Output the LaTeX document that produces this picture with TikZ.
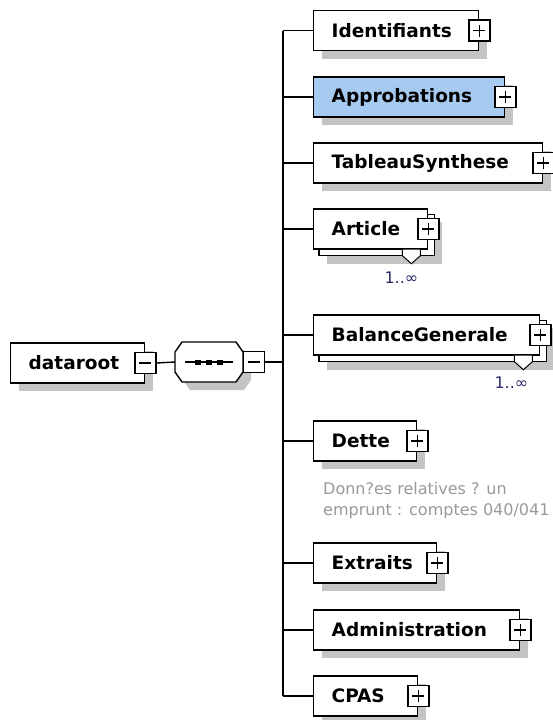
\documentclass[tikz,border=0pt]{standalone}
\usepackage{fontspec}
\setmainfont{DejaVu Sans}
\usetikzlibrary{shadows,backgrounds,calc}
\definecolor{selblue}{HTML}{A6CAF0}
\definecolor{shadowgray}{HTML}{C4C4C4}
\definecolor{occurs}{HTML}{2B2B6B}
\definecolor{notegray}{HTML}{999999}
\begin{document}
\begin{tikzpicture}[x=1pt,y=-1pt]
	\tikzset{shadowed/.style = {general shadow={fill=shadowgray, shadow xshift=8pt, shadow yshift=-8pt}}}
	\tikzset{elem/.style = {draw, line width=1.4pt, fill=white, minimum height=40pt, inner xsep=18pt, inner ysep=0pt, align=left, anchor=west, font=\fontsize{18.5}{22}\selectfont\bfseries}}
	\tikzset{single/.style = {elem, shadowed}}
	\tikzset{togglebox/.style = {draw, line width=1.4pt, fill=white, minimum size=21pt, inner sep=0pt}}
	\tikzset{plus/.style = {togglebox, path picture={\draw[line width=1.4pt] ([xshift=-6pt]path picture bounding box.center) -- ([xshift=6pt]path picture bounding box.center) ([yshift=-6pt]path picture bounding box.center) -- ([yshift=6pt]path picture bounding box.center);}}}
	\tikzset{minus/.style = {togglebox, path picture={\draw[line width=1.4pt] ([xshift=-6pt]path picture bounding box.center) -- ([xshift=6pt]path picture bounding box.center);}}}
	\tikzset{conn/.style = {line width=1.4pt}}
	\tikzset{occ/.style = {text=occurs, inner sep=0pt, font=\fontsize{16}{18}\selectfont}}
	\tikzset{note/.style = {text=notegray, inner sep=0pt, align=left, font=\fontsize{16}{21}\selectfont}}
	\useasboundingbox (0,0) rectangle (552,720);
	% Root and sequence
	\node[single, text width=98pt] (root) at (10,363) {dataroot};
	\node[minus] (rootm) at (root.east) {};
	\node[minimum width=68pt, minimum height=40pt, inner sep=0pt, outer sep=0pt] (seq) at (209,362) {};
	\filldraw[line width=1.4pt, fill=white, shadowed] ($(seq.west)+(0,-10)$) -- ($(seq.north west)+(7,0)$) -- ($(seq.north east)+(-7,0)$) -- ($(seq.east)+(0,-10)$) -- ($(seq.east)+(0,10)$) -- ($(seq.south east)+(-7,0)$) -- ($(seq.south west)+(7,0)$) -- ($(seq.west)+(0,10)$) -- cycle;
	\draw[line width=1.2pt] ($(seq.center)+(-24,0)$) -- ($(seq.center)+(24,0)$);
	\foreach \d in {-11,0,11}
		\fill ($(seq.center)+(\d,0)$) +(-3,-2.5) rectangle +(3,2.5);
	\node[minus, anchor=west] (seqm) at (seq.east) {};
	\coordinate (hub) at (283,362);
	\draw[conn] (rootm.east) -- (seq.west);
	\draw[conn] (seqm.east) -- (hub);
	% Children
	\node[single, text width=129pt] (ident) at (313,30.5) {Identifiants};
	\node[plus] (identp) at (ident.east) {};
	\node[single, text width=155pt, fill=selblue] (appro) at (313,97) {Approbations};
	\node[plus] (approp) at (appro.east) {};
	\node[single, text width=193pt] (tabsyn) at (313,163) {TableauSynthese};
	\node[plus] (tabsynp) at (tabsyn.east) {};
	\node[elem, text width=78pt] (art) at (313,229) {Article};
	\node[plus] (artp) at (art.east) {};
	\node[elem, text width=190pt] (balgen) at (313,335) {BalanceGenerale};
	\node[plus] (balgenp) at (balgen.east) {};
	\node[single, text width=67pt] (dette) at (313,441) {Dette};
	\node[plus] (dettep) at (dette.east) {};
	\node[note, anchor=north west] (dettenote) at ($(dette.south west)+(10,20)$) {Donn?es relatives ? un\\emprunt : comptes 040/041};
	\node[single, text width=87pt] (extr) at (313,563) {Extraits};
	\node[plus] (extrp) at (extr.east) {};
	\node[single, text width=170pt] (admin) at (313,630) {Administration};
	\node[plus] (adminp) at (admin.east) {};
	\node[single, text width=68pt] (cpas) at (313,696) {CPAS};
	\node[plus] (cpasp) at (cpas.east) {};
	% Repeated elements
	\begin{scope}[on background layer]
		\foreach \n in {art,balgen}
			\draw[line width=1.4pt, fill=white, shadowed] ($(\n.north west)+(6,6)$) rectangle ($(\n.south east)+(6,6)$);
	\end{scope}
	\foreach \n in {art,balgen}
		\filldraw[fill=white, line width=1pt] ($(\n.south east)+(-26,0)$) -- ++(0,6) -- ++(9,8) -- ++(9,-8) -- ++(0,-6);
	\node[occ, anchor=east] (artocc) at ($(art.south east)+(-10,28)$) {1..∞};
	\node[occ, anchor=east] (balgenocc) at ($(balgen.south east)+(-12,27)$) {1..∞};
	% Connectors
	\draw[conn] (hub |- ident.west) -- (hub |- cpas.west);
	\foreach \n in {ident,appro,tabsyn,art,balgen,dette,extr,admin,cpas}
		\draw[conn] (hub |- \n.west) -- (\n.west);
\end{tikzpicture}
\end{document}
